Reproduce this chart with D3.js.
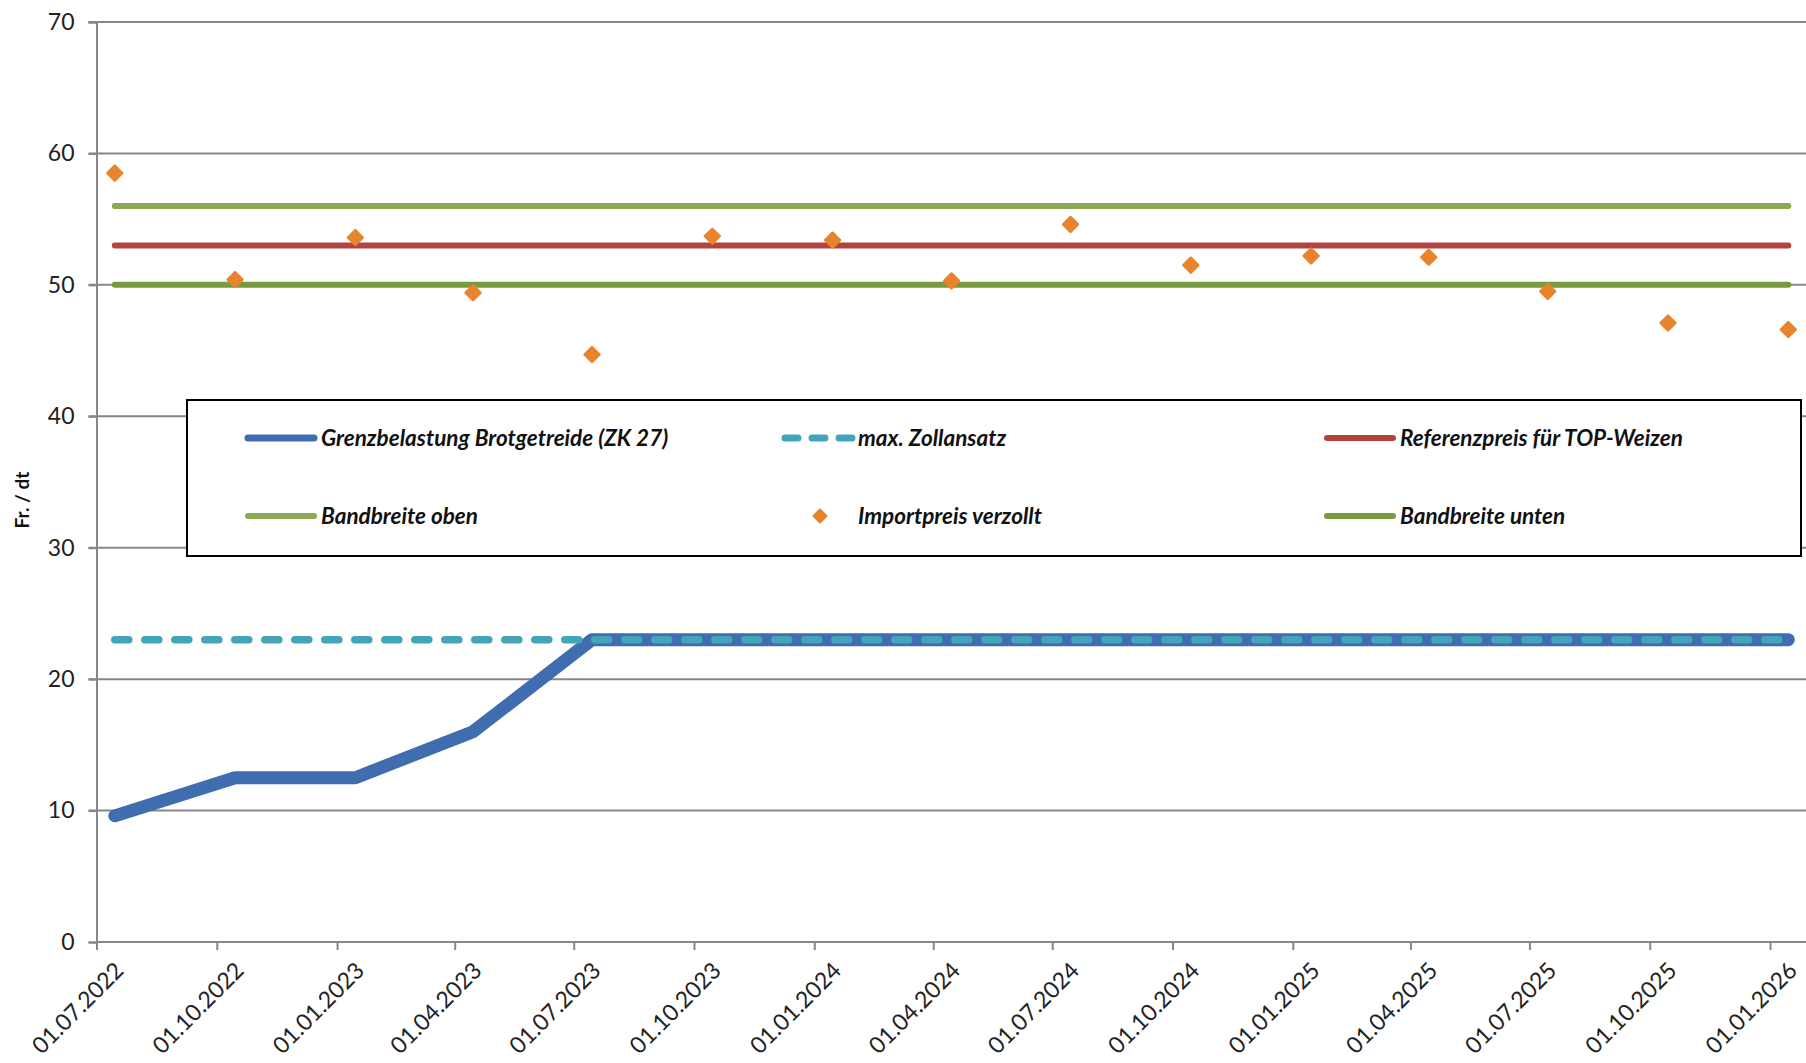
<!DOCTYPE html>
<html><head><meta charset="utf-8">
<script src="https://cdn.jsdelivr.net/npm/d3@7"></script>
<style>
html,body{margin:0;padding:0;background:#fff;}
svg{display:block;}
text{font-family:Lato, "Open Sans", sans-serif;}
</style></head>
<body><svg id="chart" width="1806" height="1063"></svg>
<script>
// ---- data ----
const dates = ["2022-07-15","2022-10-15","2023-01-15","2023-04-15","2023-07-15","2023-10-15","2024-01-15","2024-04-15","2024-07-15","2024-10-15","2025-01-15","2025-04-15","2025-07-15","2025-10-15","2026-01-15"];
const tickLabels = ["01.07.2022","01.10.2022","01.01.2023","01.04.2023","01.07.2023","01.10.2023","01.01.2024","01.04.2024","01.07.2024","01.10.2024","01.01.2025","01.04.2025","01.07.2025","01.10.2025","01.01.2026"];
const yTicks = [0,10,20,30,40,50,60,70];
const grenzbelastung = [9.6,12.5,12.5,16.0,23,23,23,23,23,23,23,23,23,23,23];
const maxZollansatz = [23,23,23,23,23,23,23,23,23,23,23,23,23,23,23];
const referenzpreis = [53,53,53,53,53,53,53,53,53,53,53,53,53,53,53];
const bandbreiteOben = [56,56,56,56,56,56,56,56,56,56,56,56,56,56,56];
const bandbreiteUnten = [50,50,50,50,50,50,50,50,50,50,50,50,50,50,50];
const importpreis = [58.5,50.4,53.6,49.4,44.7,53.7,53.4,50.3,54.6,51.5,52.2,52.1,49.5,47.1,46.6];
const seriesNames = ["Grenzbelastung Brotgetreide (ZK 27)","max. Zollansatz","Referenzpreis für TOP-Weizen","Bandbreite oben","Importpreis verzollt","Bandbreite unten"];

// ---- setup ----
const W = 1806, H = 1063;
const svg = d3.select("#chart");
const parseISO = d3.utcParse("%Y-%m-%d");
const parseTick = d3.utcParse("%d.%m.%Y");
const xDates = dates.map(parseISO);
const tickDates = tickLabels.map(parseTick);

const x = d3.scaleUtc().domain([tickDates[0], tickDates[tickDates.length-1]]).range([96.5, 1770]);
const y = d3.scaleLinear().domain([0,70]).range([942, 22]);
const left = 96.5, right = W;

const gridColor = "#878787";

// gridlines
svg.append("g").selectAll("line").data(yTicks.filter(d=>d>0)).join("line")
  .attr("x1", left-8).attr("x2", right)
  .attr("y1", d=>y(d)).attr("y2", d=>y(d))
  .attr("stroke", gridColor).attr("stroke-width", 2);

// y axis
const yAxis = svg.append("g").attr("transform", `translate(${left},0)`)
  .call(d3.axisLeft(y).tickValues(yTicks).tickSize(8).tickPadding(14).tickFormat(d3.format("d")));
yAxis.select(".domain").attr("stroke", gridColor).attr("stroke-width", 2);
yAxis.selectAll(".tick line").attr("stroke", gridColor).attr("stroke-width", 2);
yAxis.selectAll(".tick text").attr("font-size", 23).attr("fill", "#222").style("font-family","Lato");

// x axis
const xAxis = svg.append("g").attr("transform", `translate(0,${y(0)})`)
  .call(d3.axisBottom(x).tickValues(tickDates).tickSize(8).tickFormat((d,i)=>tickLabels[i]));
xAxis.select(".domain").attr("d", `M${left},0H${right}`).attr("stroke", gridColor).attr("stroke-width", 2);
xAxis.selectAll(".tick line").attr("stroke", gridColor).attr("stroke-width", 2);
xAxis.selectAll(".tick text")
  .attr("font-size", 23).attr("fill", "#222").style("font-family","Lato")
  .attr("text-anchor", "end")
  .attr("x", 0).attr("y", 0).attr("dy", 0)
  .attr("transform", "translate(28,30) rotate(-45)");

// y label
svg.append("text").attr("transform", "translate(29,500) rotate(-90)")
  .attr("text-anchor","middle").attr("font-size",19).attr("font-weight","bold").attr("fill","#111")
  .text("Fr. / dt");

const line = d3.line().x((d,i)=>x(xDates[i])).y(d=>y(d));

const cBlue = "#3F6DB0", cTeal = "#44A4BA", cRed = "#B2433F", cGreenO = "#8BA852", cGreenU = "#7A9A3F", cOrange = "#E8842E";

svg.append("path").datum(grenzbelastung).attr("d", line)
  .attr("fill","none").attr("stroke", cBlue).attr("stroke-width", 13)
  .attr("stroke-linejoin","round").attr("stroke-linecap","round");
svg.append("path").datum(maxZollansatz).attr("d", line)
  .attr("fill","none").attr("stroke", cTeal).attr("stroke-width", 7.5)
  .attr("stroke-dasharray","14 16").attr("stroke-linecap","round");
svg.append("path").datum(referenzpreis).attr("d", line)
  .attr("fill","none").attr("stroke", cRed).attr("stroke-width", 6).attr("stroke-linecap","round");
svg.append("path").datum(bandbreiteOben).attr("d", line)
  .attr("fill","none").attr("stroke", cGreenO).attr("stroke-width", 6).attr("stroke-linecap","round");
svg.append("path").datum(bandbreiteUnten).attr("d", line)
  .attr("fill","none").attr("stroke", cGreenU).attr("stroke-width", 6).attr("stroke-linecap","round");

const diamond = d3.symbol().type(d3.symbolSquare).size(110);
svg.append("g").selectAll("path").data(importpreis).join("path")
  .attr("d", diamond)
  .attr("transform", (d,i)=>`translate(${x(xDates[i])},${y(d)}) rotate(45)`)
  .attr("fill", cOrange).attr("stroke", cOrange).attr("stroke-width", 2.5).attr("stroke-linejoin","round");

// legend
const lg = svg.append("g");
lg.append("rect").attr("x",187).attr("y",400).attr("width",1614).attr("height",156)
  .attr("fill","#fff").attr("stroke","#000").attr("stroke-width",2);
const items = [
  {name: seriesNames[0], type:"line", color:cBlue, w:7, col:0, row:0},
  {name: seriesNames[1], type:"dash", color:cTeal, w:7, col:1, row:0},
  {name: seriesNames[2], type:"line", color:cRed, w:6, col:2, row:0},
  {name: seriesNames[3], type:"line", color:cGreenO, w:6, col:0, row:1},
  {name: seriesNames[4], type:"marker", color:cOrange, col:1, row:1},
  {name: seriesNames[5], type:"line", color:cGreenU, w:6, col:2, row:1}
];
const colX = [248, 785, 1327];
const rowY = [438, 516];
items.forEach(it=>{
  const x0 = colX[it.col], yy = rowY[it.row];
  if (it.type==="line") {
    lg.append("line").attr("x1",x0).attr("x2",x0+66).attr("y1",yy).attr("y2",yy)
      .attr("stroke",it.color).attr("stroke-width",it.w).attr("stroke-linecap","round");
  } else if (it.type==="dash") {
    lg.append("line").attr("x1",x0).attr("x2",x0+70).attr("y1",yy).attr("y2",yy)
      .attr("stroke",it.color).attr("stroke-width",it.w).attr("stroke-linecap","round")
      .attr("stroke-dasharray","13 14");
  } else {
    lg.append("path").attr("d", d3.symbol().type(d3.symbolSquare).size(85))
      .attr("transform",`translate(${x0+35},${yy}) rotate(45)`).attr("fill",it.color)
      .attr("stroke",it.color).attr("stroke-width",2).attr("stroke-linejoin","round");
  }
  lg.append("text").attr("x", x0+73).attr("y", yy).attr("dy","0.36em")
    .attr("font-size",22.5).attr("font-weight","bold").attr("font-style","italic").attr("fill","#111")
    .text(it.name);
});
</script></body></html>
